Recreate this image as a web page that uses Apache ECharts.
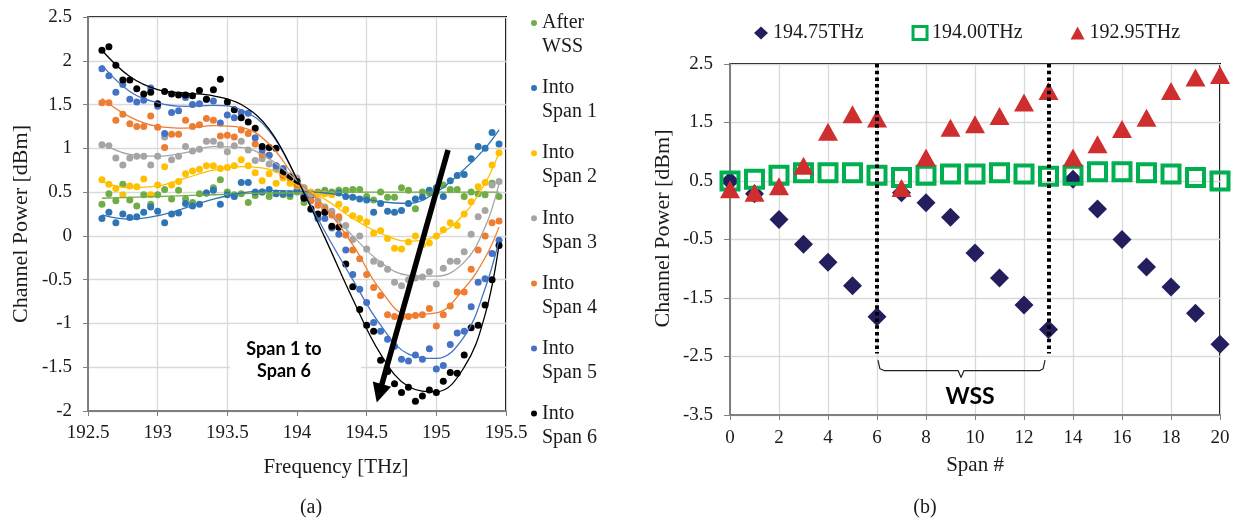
<!DOCTYPE html>
<html>
<head>
<meta charset="utf-8">
<script src="https://cdn.jsdelivr.net/npm/echarts@6/dist/echarts.min.js"></script>
<style>
html, body { margin: 0; padding: 0; background: #fff; }
#main { width: 1238px; height: 520px; }
</style>
</head>
<body>
<div id="main"></div>
<script>
// (a) channel power vs frequency, one point every 50 GHz
var freqs = [192.6,192.65,192.7,192.75,192.8,192.85,192.9,192.95,193,193.05,
             193.1,193.15,193.2,193.25,193.3,193.35,193.4,193.45,193.5,193.55,
             193.6,193.65,193.7,193.75,193.8,193.85,193.9,193.95,194,194.05,
             194.1,194.15,194.2,194.25,194.3,194.35,194.4,194.45,194.5,194.55,
             194.6,194.65,194.7,194.75,194.8,194.85,194.9,194.95,195,195.05,
             195.1,195.15,195.2,195.25,195.3,195.35,195.4,195.45];

var afterWss = [0.36,0.48,0.40,0.59,0.41,0.34,0.47,0.36,0.47,0.53,
                0.42,0.52,0.42,0.38,0.48,0.49,0.55,0.64,0.50,0.47,
                0.48,0.38,0.46,0.50,0.45,0.49,0.47,0.45,0.50,0.38,
                0.47,0.50,0.52,0.50,0.52,0.52,0.53,0.53,0.45,0.41,
                0.50,0.44,0.44,0.55,0.52,0.31,0.50,0.49,0.50,0.58,
                0.53,0.53,0.45,0.50,0.48,0.47,0.60,0.45];
var span1 = [0.20,0.27,0.15,0.25,0.21,0.22,0.27,0.33,0.28,0.15,
             0.25,0.26,0.37,0.34,0.36,0.49,0.52,0.36,0.47,0.45,
             0.61,0.61,0.50,0.50,0.53,0.48,0.48,0.48,0.52,0.46,
             0.45,0.48,0.49,0.48,0.49,0.45,0.44,0.42,0.41,0.27,
             0.37,0.28,0.27,0.29,0.37,0.42,0.44,0.52,0.55,0.45,
             0.63,0.69,0.70,0.88,1.02,1.00,1.18,1.05];
var span2 = [0.64,0.59,0.54,0.47,0.57,0.56,0.65,0.47,0.58,0.79,
             0.58,0.62,0.71,0.74,0.76,0.80,0.80,0.77,0.78,0.80,
             0.87,0.80,0.72,0.63,0.71,0.60,0.66,0.60,0.57,0.55,
             0.50,0.48,0.48,0.47,0.36,0.30,0.23,0.20,0.16,0.03,
             0.06,-0.03,-0.14,-0.15,-0.07,0.00,-0.10,-0.08,0.00,0.07,
             0.15,0.12,0.25,0.39,0.56,0.61,0.81,0.95];
var span3 = [1.04,1.03,0.89,0.81,0.89,0.91,0.91,0.81,0.91,1.13,
             0.87,0.91,1.02,0.97,0.99,1.08,1.08,1.04,0.96,1.03,
             1.08,0.98,0.86,0.88,0.82,0.76,0.70,0.68,0.66,0.55,
             0.48,0.40,0.33,0.28,0.20,0.12,-0.04,0.00,-0.15,-0.29,
             -0.32,-0.38,-0.53,-0.57,-0.50,-0.48,-0.47,-0.41,-0.55,-0.37,
             -0.29,-0.29,-0.18,0.02,0.22,0.29,0.58,0.62];
var span4 = [1.52,1.52,1.32,1.39,1.28,1.25,1.25,1.37,1.24,1.01,
             1.16,1.16,1.32,1.25,1.27,1.34,1.32,1.14,1.15,1.13,
             1.21,1.17,1.05,0.93,0.92,0.80,0.69,0.66,0.58,0.47,
             0.40,0.35,0.31,0.24,0.22,0.01,-0.16,-0.26,-0.44,-0.59,
             -0.68,-0.90,-0.92,-0.93,-0.92,-0.91,-0.90,-0.83,-1.03,-0.90,
             -0.80,-0.64,-0.64,-0.38,-0.16,0.00,0.15,0.17];
var span5 = [1.91,1.83,1.64,1.73,1.56,1.53,1.55,1.69,1.48,1.17,
             1.41,1.43,1.58,1.50,1.51,1.56,1.54,1.29,1.38,1.35,
             1.41,1.40,1.12,0.98,0.92,0.80,0.77,0.68,0.62,0.45,
             0.30,0.20,0.20,0.09,0.02,-0.16,-0.44,-0.61,-0.76,-0.99,
             -1.09,-1.18,-1.26,-1.41,-1.43,-1.36,-1.41,-1.29,-1.52,-1.48,
             -1.24,-1.11,-1.09,-0.81,-0.53,-0.49,-0.20,-0.05];
var span6 = [2.12,2.16,1.95,1.78,1.78,1.68,1.62,1.64,1.51,1.65,
             1.62,1.61,1.61,1.60,1.66,1.56,1.67,1.79,1.53,1.44,
             1.35,1.30,1.23,1.02,1.01,1.00,0.73,0.67,0.62,0.43,
             0.31,0.25,0.27,0.11,0.10,-0.32,-0.58,-0.84,-1.02,-1.09,
             -1.42,-1.55,-1.69,-1.79,-1.73,-1.89,-1.83,-1.76,-1.79,-1.66,
             -1.56,-1.57,-1.36,-1.05,-1.02,-0.79,-0.50,-0.11];

// polynomial trend lines
var trendFreqs = [192.6,192.8,193.0,193.2,193.4,193.6,193.8,194.0,194.2,194.4,194.6,194.8,195.0,195.2,195.35,195.45];
var trendAfterWss = [0.43,0.44,0.45,0.46,0.47,0.48,0.49,0.49,0.50,0.50,0.50,0.50,0.50,0.50,0.50,0.50];
var trendSpan1 = [0.24,0.19,0.23,0.32,0.42,0.49,0.52,0.51,0.49,0.45,0.39,0.37,0.50,0.76,1.00,1.21];
var trendSpan2 = [0.62,0.55,0.57,0.66,0.75,0.79,0.76,0.58,0.42,0.20,0.03,-0.06,0.00,0.25,0.60,0.95];
var trendSpan3 = [1.06,0.93,0.91,0.95,1.02,1.01,0.88,0.63,0.33,0.00,-0.30,-0.45,-0.46,-0.30,0.10,0.60];
var trendSpan4 = [1.57,1.36,1.25,1.23,1.26,1.24,1.05,0.64,0.33,-0.10,-0.62,-0.90,-0.88,-0.60,-0.25,0.10];
var trendSpan5 = [1.95,1.65,1.52,1.48,1.49,1.44,1.20,0.65,0.05,-0.50,-1.02,-1.35,-1.40,-1.15,-0.60,-0.05];
var trendSpan6 = [2.12,1.82,1.67,1.63,1.60,1.50,1.22,0.65,-0.02,-0.72,-1.35,-1.72,-1.78,-1.50,-0.90,-0.10];

var leftNames = ['After WSS','Into Span 1','Into Span 2','Into Span 3','Into Span 4','Into Span 5','Into Span 6'];
var leftColors = ['#70AD47','#2E75B6','#FFC000','#A5A5A5','#ED7D31','#4472C4','#000000'];

// arrow "Span 1 to Span 6" (data coords)
var arrowFrom = [195.084, 0.98];
var arrowTo = [194.591, -1.798];

// (b) channel power vs span
var spans = [0,1,2,3,4,5,6,7,8,9,10,11,12,13,14,15,16,17,18,19,20];
var f19475 = [0.50,0.28,-0.16,-0.58,-0.89,-1.29,-1.82,0.30,0.13,-0.12,-0.73,-1.16,-1.62,-2.04,0.53,0.02,-0.50,-0.97,-1.31,-1.76,-2.29];
var f19400 = [0.50,0.53,0.60,0.64,0.64,0.64,0.60,0.56,0.60,0.62,0.62,0.64,0.62,0.58,0.60,0.66,0.66,0.64,0.62,0.56,0.50];
var f19295 = [0.36,0.30,0.41,0.76,1.34,1.64,1.57,0.38,0.90,1.41,1.47,1.61,1.84,2.04,0.90,1.13,1.39,1.58,2.04,2.27,2.31];
var rightYTicks = ['-3.5','-2.5','-1.5','-0.5','0.5','1.5','2.5'];

// WSS positions and the brace under them
var wssSpans = [6, 13];
var braceLine = [[6.04,-2.56],[6.12,-2.71],[6.29,-2.74],[9.31,-2.74],[9.43,-2.86],[9.55,-2.74],[12.65,-2.74],[12.78,-2.71],[12.86,-2.56]];

var serif = 'Liberation Serif';
var txt = '#1a1a1a';

function pairs(xs, ys) {
	return xs.map(function (x, i) { return [x, ys[i]]; });
}

var leftValues = [afterWss, span1, span2, span3, span4, span5, span6];
var leftTrends = [trendAfterWss, trendSpan1, trendSpan2, trendSpan3, trendSpan4, trendSpan5, trendSpan6];

var series = [];
for (var i = 0; i < leftNames.length; i++) {
	series.push({
		name: leftNames[i],
		type: 'scatter',
		xAxisIndex: 0, yAxisIndex: 0,
		symbol: 'circle',
		symbolSize: 7,
		itemStyle: { color: leftColors[i], opacity: 1 },
		data: pairs(freqs, leftValues[i])
	});
	series.push({
		name: 'trend ' + leftNames[i],
		type: 'line',
		xAxisIndex: 0, yAxisIndex: 0,
		smooth: 0.4,
		showSymbol: false,
		silent: true,
		lineStyle: { color: leftColors[i], width: 1.3 },
		data: pairs(trendFreqs, leftTrends[i])
	});
}

// big arrow
series.push({
	name: 'arrow',
	type: 'line',
	xAxisIndex: 0, yAxisIndex: 0,
	data: [],
	markLine: {
		silent: true,
		animation: false,
		symbol: ['none', 'triangle'],
		symbolSize: 19,
		label: { show: false },
		lineStyle: { color: '#000', width: 5.5, type: 'solid' },
		emphasis: { disabled: true },
		data: [[{ coord: arrowFrom }, { coord: arrowTo }]]
	}
});

series.push({
	name: '194.75THz',
	type: 'scatter',
	xAxisIndex: 1, yAxisIndex: 2,
	symbol: 'diamond',
	symbolSize: 19,
	itemStyle: { color: '#231F5E', opacity: 1 },
	data: pairs(spans, f19475)
});
series.push({
	name: '194.00THz',
	type: 'scatter',
	xAxisIndex: 1, yAxisIndex: 2,
	symbol: 'rect',
	symbolSize: 17,
	itemStyle: { color: 'rgba(255,255,255,0)', borderColor: '#00B050', borderWidth: 4, opacity: 1 },
	data: pairs(spans, f19400)
});
series.push({
	name: '192.95THz',
	type: 'scatter',
	xAxisIndex: 1, yAxisIndex: 2,
	symbol: 'triangle',
	symbolSize: [20, 18],
	itemStyle: { color: '#CF2E2E', opacity: 1 },
	data: pairs(spans, f19295)
});

// dotted WSS markers
series.push({
	name: 'wss',
	type: 'line',
	xAxisIndex: 1, yAxisIndex: 2,
	data: [],
	markLine: {
		silent: true,
		animation: false,
		symbol: 'none',
		label: { show: false },
		lineStyle: { color: '#000', width: 4, type: [3.5, 3.2] },
		emphasis: { disabled: true },
		data: wssSpans.map(function (s) { return [{ coord: [s, 2.5] }, { coord: [s, -2.45] }]; })
	}
});
series.push({
	name: 'brace',
	type: 'line',
	xAxisIndex: 1, yAxisIndex: 2,
	showSymbol: false,
	silent: true,
	lineStyle: { color: '#222', width: 1.2 },
	data: braceLine
});

var myChart = echarts.init(document.getElementById('main'));
var option = {
	animation: false,
	backgroundColor: '#fff',
	grid: [
		{ left: 88, top: 17, width: 418, height: 394, show: true, borderColor: '#000', borderWidth: 2, backgroundColor: 'transparent' },
		{ left: 730, top: 64, width: 490, height: 351, show: true, borderColor: '#000', borderWidth: 2, backgroundColor: 'transparent' }
	],
	legend: [
		{
			data: leftNames,
			orient: 'vertical',
			left: 531, top: -13,
			padding: 0,
			itemWidth: 6, itemHeight: 6,
			itemGap: -6.9,
			selectedMode: false,
			// blank first line so the marker sits level with the first word
			formatter: function (n) { return ' \n' + n.replace(' ', '\n'); },
			textStyle: { fontFamily: serif, fontSize: 20, lineHeight: 24, color: txt }
		},
		{
			data: [{ name: '194.75THz' }, { name: '194.00THz', itemStyle: { borderWidth: 3 } }, { name: '192.95THz' }],
			orient: 'horizontal',
			left: 754, top: 23,
			padding: 0,
			itemWidth: 14, itemHeight: 13,
			itemGap: 48,
			selectedMode: false,
			textStyle: { fontFamily: serif, fontSize: 20, color: txt }
		}
	],
	xAxis: [
		{
			gridIndex: 0, type: 'value',
			min: 192.5, max: 195.5, interval: 0.5,
			name: 'Frequency [THz]', nameLocation: 'middle', nameGap: 46,
			nameTextStyle: { fontFamily: serif, fontSize: 21, color: txt, padding: [0, 0, 0, 78] },
			axisLine: { onZero: false, lineStyle: { color: '#7f7f7f', width: 2 } },
			axisTick: { show: true, length: 5, lineStyle: { color: '#7f7f7f' } },
			axisLabel: { fontFamily: serif, fontSize: 19, color: txt, margin: 13 },
			splitLine: { show: true, lineStyle: { color: '#d9d9d9', width: 1.3 } }
		},
		{
			gridIndex: 1, type: 'value',
			min: 0, max: 20, interval: 2,
			name: 'Span #', nameLocation: 'middle', nameGap: 40,
			nameTextStyle: { fontFamily: serif, fontSize: 21, color: txt },
			axisLine: { onZero: false, lineStyle: { color: '#7f7f7f', width: 2 } },
			axisTick: { show: true, length: 5, lineStyle: { color: '#7f7f7f' } },
			axisLabel: { fontFamily: serif, fontSize: 19, color: txt, margin: 14 },
			splitLine: { show: true, lineStyle: { color: '#d9d9d9', width: 1.3 } }
		}
	],
	yAxis: [
		{
			gridIndex: 0, type: 'value',
			min: -2, max: 2.5, interval: 0.5,
			name: 'Channel Power [dBm]', nameLocation: 'middle', nameGap: 56,
			nameTextStyle: { fontFamily: serif, fontSize: 22, color: txt, padding: [0, 20, 0, 0] },
			axisLine: { show: true, onZero: false, lineStyle: { color: '#7f7f7f', width: 2 } },
			axisTick: { show: true, length: 5, lineStyle: { color: '#7f7f7f' } },
			axisLabel: { fontFamily: serif, fontSize: 19, color: txt, margin: 16 },
			splitLine: { show: true, lineStyle: { color: '#d9d9d9', width: 1.3 } }
		},
		{
			// visible ticks of panel (b): 0..6 shown as -3.5..2.5
			gridIndex: 1, type: 'value',
			min: 0, max: 6, interval: 1,
			name: 'Channel Power [dBm]', nameLocation: 'middle', nameGap: 56,
			nameTextStyle: { fontFamily: serif, fontSize: 22, color: txt, padding: [0, 0, 0, 22] },
			axisLine: { show: true, onZero: false, lineStyle: { color: '#7f7f7f', width: 2 } },
			axisTick: { show: true, length: 6, lineStyle: { color: '#7f7f7f' } },
			axisLabel: {
				fontFamily: serif, fontSize: 19, color: txt, margin: 17,
				formatter: function (v) { return rightYTicks[Math.round(v)]; }
			},
			splitLine: { show: true, lineStyle: { color: '#d9d9d9', width: 1.3 } }
		},
		{
			// data axis of panel (b)
			gridIndex: 1, type: 'value',
			min: -3.5, max: 2.5,
			show: false,
			splitLine: { show: false }
		}
	],
	graphic: [
		{ type: 'rect', z: 1, shape: { x: 230, y: 324, width: 131, height: 86 }, style: { fill: '#fff' } },
		{ type: 'text', z: 10, x: 284, y: 360, style: { text: 'Span 1 to\nSpan 6', align: 'center', verticalAlign: 'middle', fontFamily: 'Lato', fontWeight: 'bold', fontSize: 18, lineHeight: 22, fill: '#000' } },
		{ type: 'text', z: 10, x: 970, y: 397, style: { text: 'WSS', align: 'center', verticalAlign: 'middle', fontFamily: 'Lato', fontWeight: 'bold', fontSize: 23, fill: '#000' } },
		{ type: 'text', z: 10, x: 311, y: 508, style: { text: '(a)', align: 'center', verticalAlign: 'middle', fontFamily: serif, fontSize: 20, fill: txt } },
		{ type: 'text', z: 10, x: 925, y: 508, style: { text: '(b)', align: 'center', verticalAlign: 'middle', fontFamily: serif, fontSize: 20, fill: txt } }
	],
	series: series
};
myChart.setOption(option);
</script>
</body>
</html>
